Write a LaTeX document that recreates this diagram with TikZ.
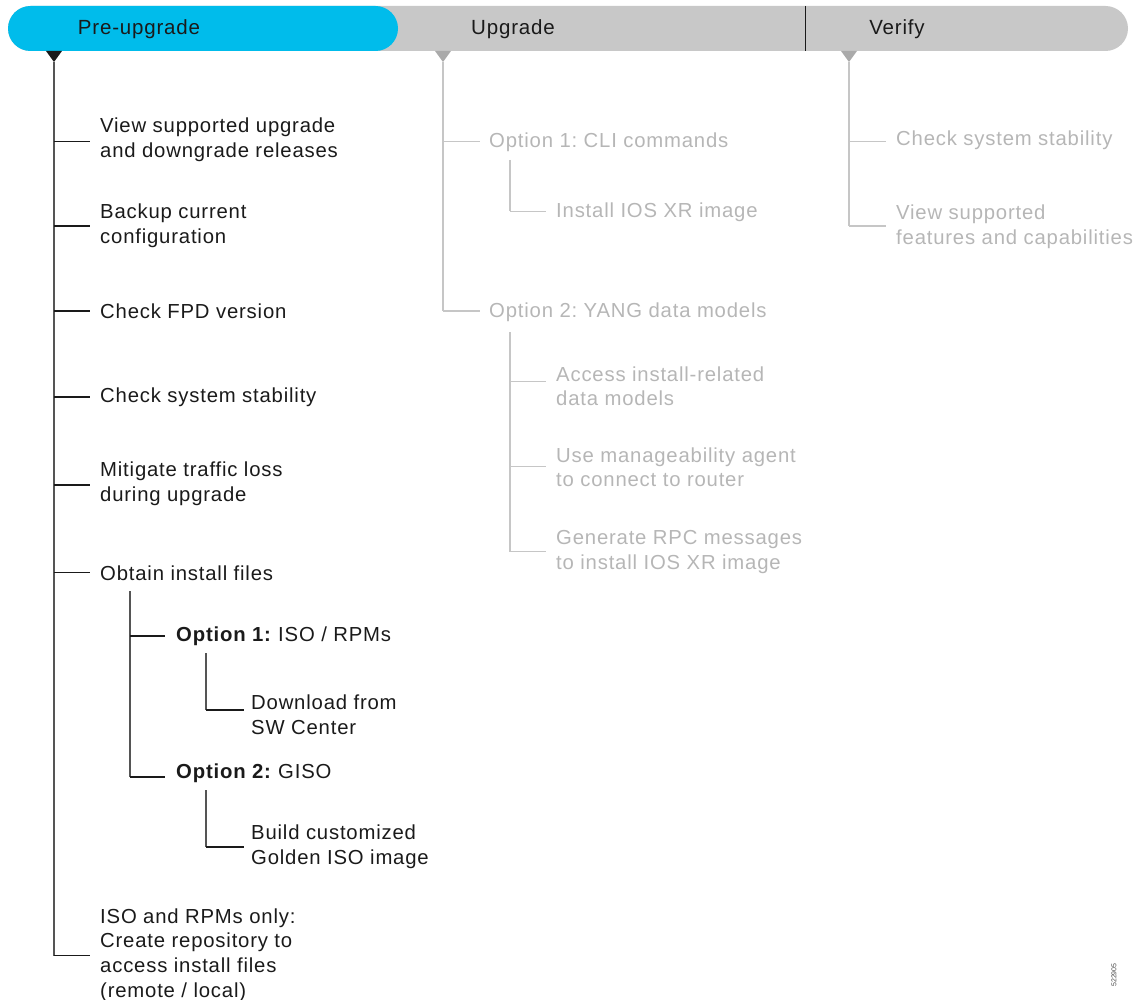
\documentclass[tikz,border=0pt]{standalone}
\usepackage{fontspec}
\setmainfont{Liberation Sans}[LetterSpace=4]
\newfontfamily\plainfont{Liberation Sans}
\frenchspacing
\definecolor{cblue}{HTML}{00BCEB}
\definecolor{bargray}{HTML}{C8C8C8}
\definecolor{ink}{HTML}{1A1A1A}
\definecolor{trunkgray}{HTML}{555555}
\definecolor{fadeline}{HTML}{C6C6C6}
\definecolor{fadetext}{HTML}{B6B6B6}
\begin{document}
\begin{tikzpicture}[x=1pt,y=-1pt,
  txt/.style={anchor=west,inner sep=0pt,align=left,text=ink,yshift=-2.5pt,
    font=\fontsize{20.3}{24.8}\selectfont\frenchspacing},
  ftxt/.style={txt,text=fadetext},
  head/.style={inner sep=0pt,text=ink,yshift=-1.5pt,font=\fontsize{20.5}{24}\selectfont},
  trunk/.style={draw=trunkgray,line width=1.2pt},
  branch/.style={draw=ink,line width=1.1pt},
  ftrunk/.style={draw=fadeline,line width=1.2pt},
  fbranch/.style={draw=fadeline,line width=1.2pt}]
\useasboundingbox (0,0) rectangle (1142,1000);
% header bar
\fill[bargray,rounded corners=22.5pt] (8,6) rectangle (1128,51);
\fill[cblue,rounded corners=22.5pt] (8,6) rectangle (398,51);
\draw[ink,line width=1pt] (805,6) -- (805,51);
\node[head] (hpre) at (139,28) {Pre-upgrade};
\node[head] (hupg) at (513,28) {Upgrade};
\node[head] (hver) at (897,28) {Verify};
% triangles
\fill[ink] (46,51) -- (62,51) -- (54,62) -- cycle;
\fill[bargray!85!black] (435,51) -- (451,51) -- (443,62) -- cycle;
\fill[bargray!85!black] (841,51) -- (857,51) -- (849,62) -- cycle;
\coordinate (tL) at (54,62);
\coordinate (tU) at (443,62);
\coordinate (tV) at (849,62);

% ---------- Pre-upgrade column ----------
\node[txt] (p1) at (100,137) {View supported upgrade\\and downgrade releases};
\node[txt] (p2) at (100,223.5) {Backup current\\configuration};
\node[txt] (p3) at (100,309) {Check FPD version};
\node[txt] (p4) at (100,395) {Check system stability};
\node[txt] (p5) at (100,481.5) {Mitigate traffic loss\\during upgrade};
\node[txt] (p6) at (100,571) {Obtain install files};
\node[txt] (o1) at (176,634) {\textbf{Option 1:} ISO / RPMs};
\node[txt] (d1) at (251,712.5) {Download from\\SW Center};
\node[txt] (o2) at (176,771) {\textbf{Option 2:} GISO};
\node[txt] (d2) at (251,844.5) {Build customized\\Golden ISO image};
\node[txt] (p7) at (100,952.5) {ISO and RPMs only:\\Create repository to\\access install files\\(remote / local)};

\draw[trunk] (tL) -- (54,955.5);
\draw[branch] (54,141.5) -- ([xshift=-10pt]p1.west |- 0,141.5);
\draw[branch] (54,226) -- ([xshift=-10pt]p2.west |- 0,226);
\draw[branch] (54,311) -- ([xshift=-10pt]p3.west |- 0,311);
\draw[branch] (54,397) -- ([xshift=-10pt]p4.west |- 0,397);
\draw[branch] (54,485) -- ([xshift=-10pt]p5.west |- 0,485);
\draw[branch] (54,572.5) -- ([xshift=-10pt]p6.west |- 0,572.5);
\draw[branch] (54,955.5) -- ([xshift=-10pt]p7.west |- 0,955.5);
% obtain sub-tree
\draw[trunk] (130,591) -- (130,777);
\draw[branch] (130,636) -- ([xshift=-11pt]o1.west |- 0,636);
\draw[branch] (130,777) -- ([xshift=-11pt]o2.west |- 0,777);
\draw[trunk] (206,653) -- (206,710);
\draw[branch] (206,710) -- ([xshift=-7pt]d1.west |- 0,710);
\draw[trunk] (206,790) -- (206,847);
\draw[branch] (206,847) -- ([xshift=-7pt]d2.west |- 0,847);

% ---------- Upgrade column ----------
\node[ftxt] (u1) at (489,139.5) {Option 1: CLI commands};
\node[ftxt] (u11) at (556,209.5) {Install IOS XR image};
\node[ftxt] (u2) at (489,309.5) {Option 2: YANG data models};
\node[ftxt] (u21) at (556,383.7) {Access install-related\\data models};
\node[ftxt] (u22) at (556,464.7) {Use manageability agent\\to connect to router};
\node[ftxt] (u23) at (556,549.5) {Generate RPC messages\\to install IOS XR image};

\draw[ftrunk] (tU) -- (443,311);
\draw[fbranch] (443,141.5) -- ([xshift=-9pt]u1.west |- 0,141.5);
\draw[fbranch] (443,311) -- ([xshift=-9pt]u2.west |- 0,311);
\draw[ftrunk] (510,160) -- (510,211.5);
\draw[fbranch] (510,211.5) -- ([xshift=-10pt]u11.west |- 0,211.5);
\draw[ftrunk] (510,332) -- (510,551.5);
\draw[fbranch] (510,381.5) -- ([xshift=-10pt]u21.west |- 0,381.5);
\draw[fbranch] (510,466.5) -- ([xshift=-10pt]u22.west |- 0,466.5);
\draw[fbranch] (510,551.5) -- ([xshift=-10pt]u23.west |- 0,551.5);

% ---------- Verify column ----------
\node[ftxt] (v1) at (896,138) {Check system stability};
\node[ftxt] (v2) at (896,224.5) {View supported\\features and capabilities};
\draw[ftrunk] (tV) -- (849,226);
\draw[fbranch] (849,141.5) -- ([xshift=-10pt]v1.west |- 0,141.5);
\draw[fbranch] (849,226) -- ([xshift=-10pt]v2.west |- 0,226);

% figure number
\node[rotate=90,inner sep=0pt,text=ink!80,font=\plainfont\fontsize{7}{8}\selectfont] (fig) at (1114,975) {522905};
\end{tikzpicture}
\end{document}
